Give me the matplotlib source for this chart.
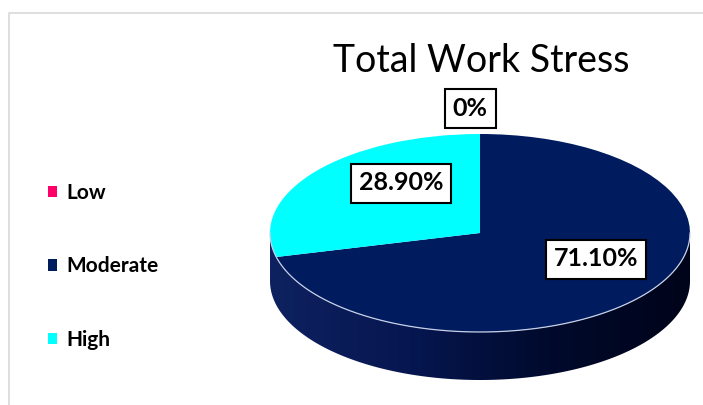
import numpy as np
import matplotlib
matplotlib.use("Agg")
import matplotlib.pyplot as plt
from matplotlib.patches import Patch, Polygon
from matplotlib.colors import LinearSegmentedColormap

# ---- data ----
categories = ["Low", "Moderate", "High"]
values = [0.0, 71.1, 28.9]
labels = ["0%", "71.10%", "28.90%"]
colors = ["#ff0066", "#001b5e", "#00ffff"]
title = "Total Work Stress"

W, H = 703, 405
fig = plt.figure(figsize=(W / 100, H / 100), dpi=100)
plt.rcParams['font.family'] = ['Lato', 'DejaVu Sans']

# background frame axes (pixel coords)
bg = fig.add_axes([0, 0, 1, 1])
bg.set_xlim(0, W)
bg.set_ylim(H, 0)
bg.axis('off')
bg.plot([9, 9, W + 5], [H + 5, 13, 13], color='#d9d9d9', lw=1.2)

# ---- pie axes ----
cx, cy = 480, 233      # ellipse centre (px)
a, b = 210, 99         # semi-axes (px)
depth = 48             # side thickness (px)
top_px, bot_px = 120, 398
left_px, right_px = cx - a - 4, cx + a + 4
ax = fig.add_axes([left_px / W, 1 - bot_px / H, (right_px - left_px) / W, (bot_px - top_px) / H])
wedges, _ = ax.pie(values, colors=colors, startangle=90, counterclock=False,
                   radius=1, wedgeprops=dict(linewidth=0))
ax.set_aspect('auto')
ax.set_xlim(-(cx - left_px) / a, (right_px - cx) / a)
ax.set_ylim(-(bot_px - cy) / b, (cy - top_px) / b)
ax.axis('off')

d = depth / b
theta = np.linspace(np.pi, 2 * np.pi, 400)
xs = np.cos(theta)
ys = np.sin(theta)
side_poly = np.concatenate([np.c_[xs, ys], np.c_[xs[::-1], ys[::-1] - d]])
poly = Polygon(side_poly, closed=True, facecolor='none', edgecolor='none')
ax.add_patch(poly)
grad = np.linspace(0, 1, 256).reshape(1, -1)
cmap = LinearSegmentedColormap.from_list('side', ['#0e2260', '#061650', '#000a2c', '#00041a'])
im = ax.imshow(grad, cmap=cmap, extent=[-1, 1, -1 - d, 0.05], aspect='auto', zorder=0.5)
im.set_clip_path(poly)
for w in wedges:
    w.set_zorder(1)
ax.plot(xs, ys, color='#c8d0e8', lw=0.9, zorder=2)

# ---- title ----
fig.text(481 / W, 1 - 61 / H, title, ha='center', va='center', fontsize=27,
         color='black')

# ---- data labels ----
label_pos = [(470, 108), (596, 259), (401, 183)]
for lab, (px, py) in zip(labels, label_pos):
    fig.text(px / W, 1 - py / H, lab, ha='center', va='center', fontsize=18,
             fontweight='bold', color='black',
             bbox=dict(boxstyle='square,pad=0.32', facecolor='white',
                       edgecolor='black', linewidth=1.5))

# ---- legend ----
handles = [Patch(facecolor=c, edgecolor='none') for c in colors]
leg = fig.legend(handles, categories, loc='upper left',
                 bbox_to_anchor=(29 / W, 1 - 164 / H), frameon=False,
                 prop=dict(size=15, weight='bold'), handlelength=0.45,
                 handleheight=0.45, handletextpad=0.45, labelspacing=2.58)

fig.savefig('out.png', dpi=100)
